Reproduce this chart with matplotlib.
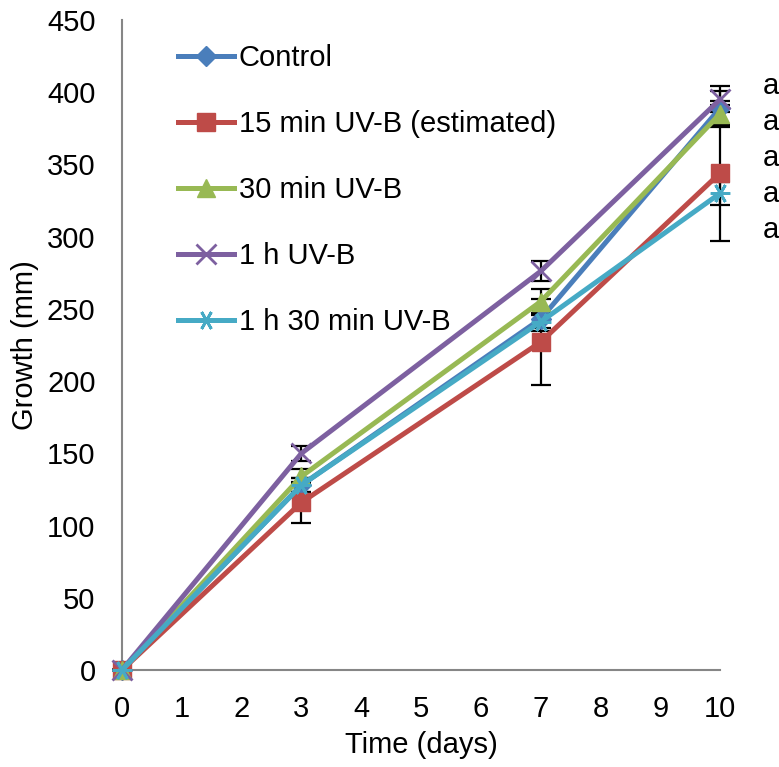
import matplotlib
matplotlib.use('Agg')
import matplotlib.pyplot as plt

plt.rcParams['font.family'] = ['Liberation Sans', 'DejaVu Sans']

# Donnees
jours = [0, 3, 7, 10]
series = ['Control', '15 min UV-B (estimated)', '30 min UV-B', '1 h UV-B', '1 h 30 min UV-B']
control = [0, 128, 243, 389]
uv_15 = [0, 116, 227, 344]
uv_30 = [0, 134, 255, 385]
uv_60 = [0, 150, 276, 395]
uv_90 = [0, 128, 241, 330]
err_control = [0, 5, 6, 12]
err_15 = [0, 14, 30, 47]
err_30 = [0, 5, 9, 9]
err_60 = [0, 5, 7, 9]
err_90 = [0, 5, 6, 8]
lettres = ['a', 'a', 'a', 'a', 'a']

couleurs = ['#4A7EBB', '#BE4B48', '#98B954', '#7D60A0', '#46AAC5']
marqueurs = ['D', 's', '^', 'x', (6, 2, 90)]
tailles = [10, 13, 13, 14, 14]
fs = 21

fig = plt.figure(figsize=(7.79, 7.67), dpi=100)
ax = fig.add_axes([122/779, 97/767, 598/779, 650/767])

valeurs = [control, uv_15, uv_30, uv_60, uv_90]
erreurs = [err_control, err_15, err_30, err_60, err_90]
for i in range(len(series)):
    ax.errorbar(jours, valeurs[i], yerr=erreurs[i], fmt='none', ecolor='black',
                elinewidth=1.6, capsize=7, capthick=1.6, zorder=2, clip_on=False)
for i in range(len(series)):
    ax.plot(jours, valeurs[i], color=couleurs[i], marker=marqueurs[i], markersize=tailles[i],
            markeredgewidth=2 if i >= 3 else 1, markeredgecolor=couleurs[i],
            linewidth=3.6, label=series[i], zorder=3 + i, clip_on=False)

ax.set_xlim(0, 10)
ax.set_ylim(0, 450)
ax.set_xticks(range(0, 11))
ax.set_yticks(range(0, 451, 50))
ax.tick_params(length=0, labelsize=fs)
ax.tick_params(axis='y', pad=19)
ax.tick_params(axis='x', pad=18)
for s in ['top', 'right']:
    ax.spines[s].set_visible(False)
for s in ['left', 'bottom']:
    ax.spines[s].set_color('#868686')
    ax.spines[s].set_linewidth(1.5)
ax.set_xlabel('Time (days)', fontsize=fs, labelpad=6)
ax.set_ylabel('Growth (mm)', fontsize=fs, labelpad=6)

leg = ax.legend(loc='upper left', bbox_to_anchor=(0.094, 0.963), frameon=False, fontsize=fs,
                handlelength=1.9, handletextpad=0.17, labelspacing=1.3,
                borderpad=0, borderaxespad=0)

# lettres de significativite a droite
for k, l in enumerate(lettres):
    fig.text(763/779, 1 - (86 + 36*k)/767, l, fontsize=fs, va='center', ha='left')

plt.savefig('out.png', dpi=100)
